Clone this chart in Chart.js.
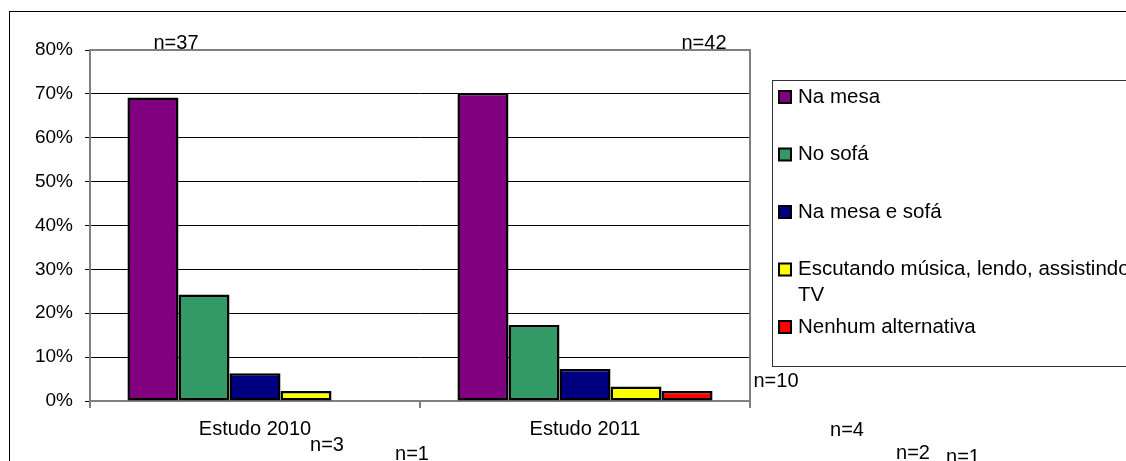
<!DOCTYPE html>
<html>
<head>
<meta charset="utf-8">
<script src="https://cdn.jsdelivr.net/npm/chart.js@4"></script>
<style>
  html, body { margin: 0; padding: 0; background: #fff; }
  canvas { display: block; }
</style>
</head>
<body>
<canvas id="chart" width="1126" height="461"></canvas>
<script>
// data (percent)
const categories = ['Estudo 2010', 'Estudo 2011'];
const seriesNames = ['Na mesa', 'No sofá', 'Na mesa e sofá', 'Escutando música, lendo, assistindo TV', 'Nenhum alternativa'];
const naMesa = [69.2, 70.2];
const noSofa = [24.3, 17.3];
const mesaESofa = [6.3, 7.3];
const escutando = [2.3, 3.3];
const nenhum = [0, 2.3];
const yTicks = [0, 10, 20, 30, 40, 50, 60, 70, 80];
const nLabels = ['n=37', 'n=42', 'n=10', 'n=3', 'n=1', 'n=4', 'n=2', 'n=1'];

// where the stray n= labels sit on the page
const nLabelPos = [[176, 43], [704, 43], [776, 381], [327, 445], [412, 454], [847, 430], [913, 453], [963, 457]];
const colors = ['#800080', '#339966', '#000080', '#FFFF00', '#FF0000'];
const FONT = '"Liberation Sans", Arial, sans-serif';

const framePlugin = {
    id: 'frame',
    beforeDatasetsDraw(chart) {
        const { ctx, chartArea: a } = chart;
        ctx.save();
        ctx.strokeStyle = '#808080';
        ctx.lineWidth = 2;
        ctx.beginPath();
        ctx.moveTo(a.left, a.top);
        ctx.lineTo(a.right, a.top);
        ctx.lineTo(a.right, a.bottom);
        ctx.stroke();
        ctx.restore();
    },
    afterDraw(chart) {
        const ctx = chart.ctx;
        ctx.save();
        // outer frame
        ctx.strokeStyle = '#000';
        ctx.lineWidth = 1;
        ctx.strokeRect(9.5, 11.5, 1300, 1000);

        // legend box
        ctx.strokeStyle = '#333';
        ctx.strokeRect(772.5, 80.5, 600, 286);
        ctx.font = '20.5px ' + FONT;
        ctx.textBaseline = 'middle';
        ctx.fillStyle = '#000';
        let y = 97;
        chart.data.datasets.forEach((ds) => {
            ctx.fillStyle = ds.backgroundColor;
            ctx.fillRect(779, y - 6, 12, 12);
            ctx.lineWidth = 2;
            ctx.strokeStyle = '#000';
            ctx.strokeRect(779, y - 6, 12, 12);
            ctx.fillStyle = '#000';
            // simple word wrap
            const words = ds.label.split(' ');
            let line = '';
            const lines = [];
            words.forEach(w => {
                const test = line ? line + ' ' + w : w;
                if (ctx.measureText(test).width > 345 && line) {
                    lines.push(line);
                    line = w;
                } else {
                    line = test;
                }
            });
            lines.push(line);
            lines.forEach((l, i) => ctx.fillText(l, 798, y + i * 26));
            y += 57.5;
        });

        // n= labels
        ctx.font = '20px ' + FONT;
        ctx.textAlign = 'center';
        nLabels.forEach((t, i) => ctx.fillText(t, nLabelPos[i][0], nLabelPos[i][1]));
        ctx.restore();
    }
};

const seriesValues = [naMesa, noSofa, mesaESofa, escutando, nenhum];

new Chart(document.getElementById('chart'), {
    type: 'bar',
    data: {
        labels: categories,
        datasets: seriesNames.map((name, i) => ({
            label: name,
            data: seriesValues[i],
            backgroundColor: colors[i],
            borderColor: '#000',
            borderWidth: 2.5,
            borderSkipped: false,
            categoryPercentage: 0.773,
            barPercentage: 1
        }))
    },
    options: {
        responsive: false,
        animation: false,
        layout: { padding: { left: 0, top: 50, right: 376, bottom: 0 } },
        plugins: {
            legend: { display: false },
            tooltip: { enabled: false }
        },
        scales: {
            x: {
                afterFit(scale) { scale.height = 60; },
                grid: {
                    drawOnChartArea: false,
                    tickLength: 7,
                    color: '#808080',
                    lineWidth: 2
                },
                border: { color: '#808080', width: 2 },
                ticks: {
                    color: '#000',
                    padding: 9,
                    font: { family: FONT, size: 20 }
                }
            },
            y: {
                min: 0,
                max: 80,
                afterFit(scale) { scale.width = 90; },
                afterBuildTicks(scale) { scale.ticks = yTicks.map(v => ({ value: v })); },
                grid: {
                    color: '#000',
                    lineWidth: 1,
                    tickLength: 5
                },
                border: { color: '#808080', width: 2 },
                ticks: {
                    color: '#000',
                    padding: 12,
                    font: { family: FONT, size: 19 },
                    callback: v => v + '%'
                }
            }
        }
    },
    plugins: [framePlugin]
});
</script>
</body>
</html>
